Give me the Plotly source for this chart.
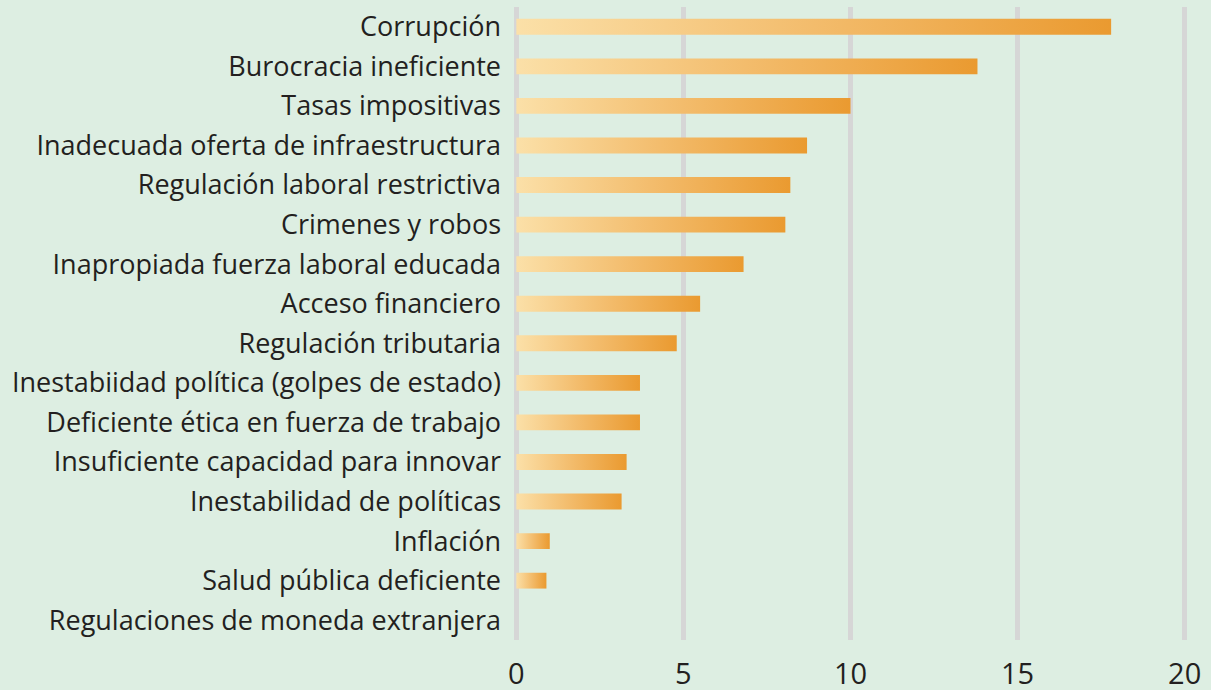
import plotly.graph_objects as go

categories = [
    "Corrupción",
    "Burocracia ineficiente",
    "Tasas impositivas",
    "Inadecuada oferta de infraestructura",
    "Regulación laboral restrictiva",
    "Crimenes y robos",
    "Inapropiada fuerza laboral educada",
    "Acceso financiero",
    "Regulación tributaria",
    "Inestabiidad política (golpes de estado)",
    "Deficiente ética en fuerza de trabajo",
    "Insuficiente capacidad para innovar",
    "Inestabilidad de políticas",
    "Inflación",
    "Salud pública deficiente",
    "Regulaciones de moneda extranjera",
]
values = [17.8, 13.8, 10.0, 8.7, 8.2, 8.05, 6.8, 5.5, 4.8, 3.7, 3.7, 3.3, 3.15, 1.0, 0.9, 0.0]
x_ticks = [0, 5, 10, 15, 20]

BG = "#ddeee2"
GRID = "#d6d6d6"
TEXT = "#231f20"
GRAD = [[0, "#fbe0a8"], [0.5, "#f3bc6c"], [1, "#ea9a30"]]
HALF = 0.2

fig = go.Figure()
for i, (cat, v) in enumerate(zip(categories, values)):
    if v <= 0:
        continue
    fig.add_trace(go.Scatter(
        x=[0, v, v, 0, 0],
        y=[i - HALF, i - HALF, i + HALF, i + HALF, i - HALF],
        mode="none",
        fill="toself",
        fillgradient=dict(type="horizontal", colorscale=GRAD),
        hoverinfo="skip",
        showlegend=False,
        name=cat,
    ))

fig.update_layout(
    width=1211,
    height=690,
    paper_bgcolor=BG,
    plot_bgcolor=BG,
    margin=dict(l=513, r=23, t=7, b=50, autoexpand=False),
    font=dict(family="Open Sans", color=TEXT),
    showlegend=False,
)
fig.update_xaxes(
    range=[-0.1, 20.1],
    tickvals=x_ticks,
    ticktext=[str(t) for t in x_ticks],
    showgrid=True,
    gridcolor=GRID,
    gridwidth=5,
    zeroline=False,
    showline=False,
    ticks="",
    ticklabelstandoff=14,
    tickfont=dict(size=29, color=TEXT),
)
fig.update_yaxes(
    range=[len(categories) - 0.5, -0.5],
    tickvals=list(range(len(categories))),
    ticktext=categories,
    showgrid=False,
    zeroline=False,
    showline=False,
    ticks="",
    ticklabelstandoff=11,
    tickfont=dict(size=27, color=TEXT),
)

fig.write_html(
    "out.html",
    config={"displayModeBar": False, "staticPlot": True},
    post_script="document.body.style.margin='0';document.body.style.padding='0';document.body.style.overflow='hidden';document.body.style.background='" + BG + "';",
)
